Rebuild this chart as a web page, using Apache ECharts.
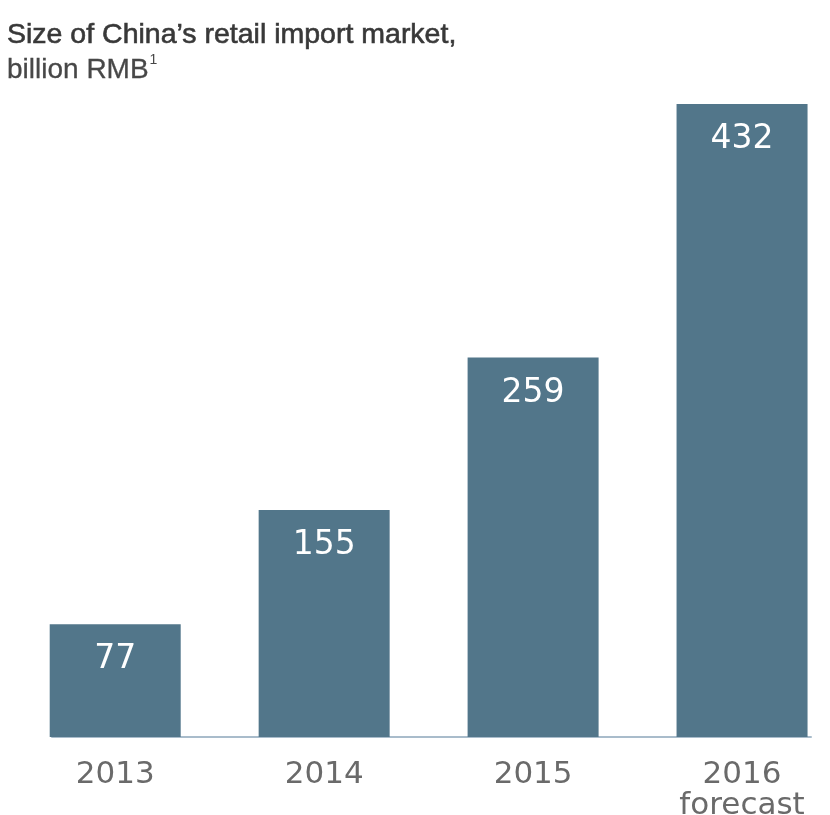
<!DOCTYPE html>
<html>
<head>
<meta charset="utf-8">
<script src="https://cdn.jsdelivr.net/npm/echarts@6/dist/echarts.min.js"></script>
<style>
  html, body { margin: 0; padding: 0; background: #ffffff; }
  #chart { width: 830px; height: 815px; }
</style>
</head>
<body>
<div id="chart"></div>
<script>
// Retail import market size, billion RMB
const years = ['2013', '2014', '2015', '2016\nforecast'];
const values = [77, 155, 259, 432];

const barColor = '#52768a';
const titleFont = '"Liberation Sans", Arial, Helvetica, sans-serif';
const labelFont = '"DejaVu Sans", Verdana, sans-serif';

const chart = echarts.init(document.getElementById('chart'));

chart.setOption({
  backgroundColor: '#ffffff',
  animation: false,
  title: {
    left: 2,
    top: 13,
    text: '{a|Size of China\u2019s retail import market,}\n{b|billion RMB}{s|1}',
    textStyle: {
      fontWeight: 'normal',
      rich: {
        a: { fontFamily: titleFont, fontSize: 28.5, fontWeight: 'normal', color: '#383838', lineHeight: 35, textBorderColor: '#383838', textBorderWidth: 0.6 },
        b: { fontFamily: titleFont, fontSize: 28, fontWeight: 'normal', color: '#474747', lineHeight: 35, textBorderColor: '#474747', textBorderWidth: 0.3 },
        s: { fontFamily: titleFont, fontSize: 14, fontWeight: 'normal', color: '#474747', verticalAlign: 'top', lineHeight: 35, padding: [0, 0, 14, 1] }
      }
    }
  },
  grid: { left: 52, right: 19, top: 4.4, bottom: 78, outerBoundsMode: 'none', containLabel: false },
  xAxis: {
    type: 'value',
    min: -0.3025,
    max: 3.33,
    splitLine: { show: false },
    axisLine: { show: true, onZero: false, lineStyle: { color: '#a9bccb', width: 2 } },
    axisTick: { show: false },
    axisLabel: {
      customValues: [0, 1, 2, 3],
      formatter: v => years[Math.round(v)],
      margin: 22,
      fontFamily: labelFont,
      fontSize: 31,
      lineHeight: 31,
      color: '#6a6a6a',
      verticalAlign: 'top'
    }
  },
  yAxis: {
    type: 'value',
    min: 0,
    max: 500,
    show: false
  },
  series: [{
    type: 'bar',
    data: values.map((v, i) => [i, v]),
    barWidth: 131,
    itemStyle: { color: barColor },
    label: {
      show: true,
      position: 'insideTop',
      distance: 19,
      fontFamily: labelFont,
      fontSize: 33,
      color: '#ffffff'
    }
  }]
});
</script>
</body>
</html>
